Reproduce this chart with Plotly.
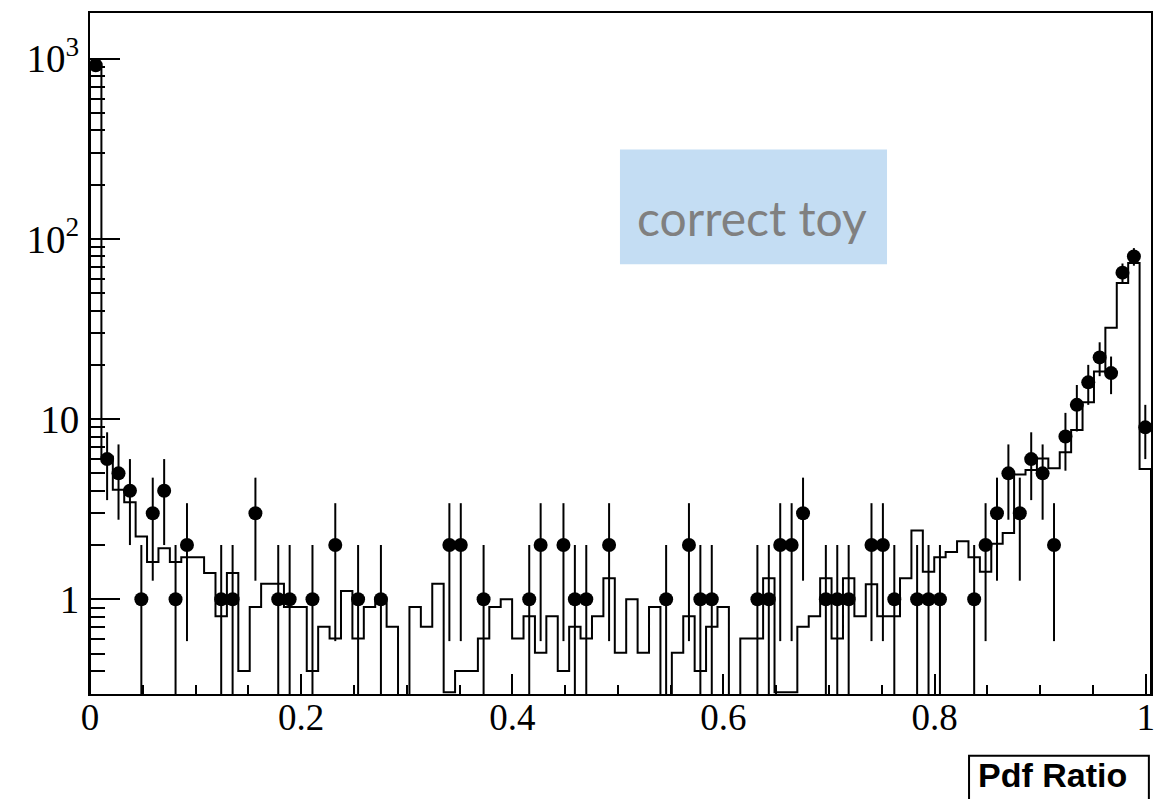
import numpy as np
import plotly.graph_objects as go

# ---- data ----
n_bins = 93
x_min, x_max = 0.0, 1.005

# observed counts per bin (0 = empty bin, not drawn)
data_counts = [
    920, 6, 5, 4, 1, 3, 4, 1, 2, 0,
    0, 1, 1, 0, 3, 0, 1, 1, 0, 1,
    0, 2, 0, 1, 0, 1, 0, 0, 0, 0,
    0, 2, 2, 0, 1, 0, 0, 0, 1, 2,
    0, 2, 1, 1, 0, 2, 0, 0, 0, 0,
    1, 0, 2, 1, 1, 0, 0, 0, 1, 1,
    2, 2, 3, 0, 1, 1, 1, 0, 2, 2,
    1, 0, 1, 1, 1, 0, 0, 1, 2, 3,
    5, 3, 6, 5, 2, 8, 12, 16, 22, 18,
    65, 80, 9,
]

# expected (step histogram) content per bin
expected = [
    900, 6.2, 4.05, 3.45, 2.23, 1.61, 1.92, 1.61, 1.71, 1.71,
    1.4, 0.805, 1.4, 0.40, 0.906, 1.22, 1.22, 0.906, 0.906, 0.40,
    0.703, 0.606, 1.11, 0.606, 0.906, 1.0, 0.703, 0, 0.906, 0.703,
    1.22, 0.305, 0.40, 0.40, 0.606, 0.906, 1.0, 0.606, 0.805, 0.505,
    0.805, 0.40, 0.703, 0.606, 0.805, 1.31, 0.505, 1.0, 0.505, 0.906,
    0, 0.505, 0.805, 0.40, 0.703, 0.906, 0, 0.606, 0.606, 1.31,
    0.305, 0.305, 0.703, 0.805, 1.31, 0.606, 1.31, 0.805, 1.21, 0.805,
    0.805, 1.31, 2.41, 1.42, 1.71, 1.83, 2.10, 1.71, 1.42, 2.03,
    2.33, 4.92, 5.22, 6.05, 5.33, 6.54, 8.69, 12.4, 18.4, 32.1,
    57, 73.6, 5.29,
]

x_ticks = [0, 0.2, 0.4, 0.6, 0.8, 1]
x_tick_labels = ["0", "0.2", "0.4", "0.6", "0.8", "1"]
y_ticks = [1, 10, 100, 1000]
y_tick_labels = ["1", "10", "10<sup>2</sup>", "10<sup>3</sup>"]
y_minor = [0.3, 0.4, 0.5, 0.6, 0.7, 0.8, 0.9,
           2, 3, 4, 5, 6, 7, 8, 9,
           20, 30, 40, 50, 60, 70, 80, 90,
           200, 300, 400, 500, 600, 700, 800, 900]
y_min, y_max = 0.298, 1795

# ---- derived ----
edges = np.linspace(x_min, x_max, n_bins + 1)
centers = 0.5 * (edges[:-1] + edges[1:])
floor = 1e-3  # empty bins drop below the axis minimum

exp = np.array(expected, dtype=float)
exp_draw = np.where(exp > 0, exp, floor)
step_x = np.concatenate([[edges[0]], edges])
step_y = np.concatenate([[floor], exp_draw, [floor]])

cnt = np.array(data_counts, dtype=float)
mask = cnt > 0
px = centers[mask]
py = cnt[mask]
err = np.sqrt(py)

fig = go.Figure()
fig.add_trace(go.Scatter(
    x=step_x, y=step_y, mode="lines", line=dict(shape="hv", color="black", width=2),
    hoverinfo="skip", showlegend=False,
))
fig.add_trace(go.Scatter(
    x=px, y=py, mode="markers",
    marker=dict(symbol="circle", size=14, color="black"),
    error_y=dict(type="data", array=err, arrayminus=err, width=0, thickness=2, color="black"),
    showlegend=False,
))

serif = "Liberation Serif, Times New Roman, serif"

fig.update_xaxes(
    range=[x_min, x_max], tickvals=x_ticks, ticktext=x_tick_labels,
    ticks="inside", ticklen=20, tickwidth=2, tickcolor="black",
    minor=dict(dtick=0.05, ticks="inside", ticklen=9, tickwidth=2, tickcolor="black", showgrid=False),
    showline=True, linewidth=2, linecolor="black", mirror=True,
    showgrid=False, zeroline=False, ticklabelstandoff=-10,
    tickfont=dict(family=serif, size=37, color="black"),
)
fig.update_yaxes(
    type="log", range=[np.log10(y_min), np.log10(y_max)],
    tickvals=y_ticks, ticktext=y_tick_labels,
    ticks="inside", ticklen=30, tickwidth=2, tickcolor="black",
    minor=dict(tickvals=y_minor, ticks="inside", ticklen=15, tickwidth=2, tickcolor="black", showgrid=False),
    showline=True, linewidth=2, linecolor="black", mirror=True,
    showgrid=False, zeroline=False, ticklabelstandoff=1,
    tickfont=dict(family=serif, size=39, color="black"),
)

# "correct toy" label box
fig.add_shape(type="rect", xref="paper", yref="paper",
              x0=0.4995, x1=0.7512, y0=0.631, y1=0.7994,
              fillcolor="#C4DDF3", line=dict(width=0), layer="above")
fig.add_annotation(text="correct toy", xref="paper", yref="paper",
                   x=0.624, y=0.70, xanchor="center", yanchor="middle",
                   showarrow=False, font=dict(family="Lato, sans-serif", size=48, color="#808080"))

# axis title box
fig.add_shape(type="rect", xref="paper", yref="paper",
              x0=0.8285, x1=0.998, y0=-0.18, y1=-0.0908,
              fillcolor="white", line=dict(color="black", width=2), layer="above")
fig.add_annotation(text="<b>Pdf Ratio</b>", xref="paper", yref="paper",
                   x=0.9067, y=-0.119, xanchor="center", yanchor="middle",
                   showarrow=False, font=dict(family="Liberation Sans, Arial, sans-serif", size=34, color="black"))

fig.update_layout(
    width=1167, height=799,
    margin=dict(l=90, r=16, t=11, b=105),
    paper_bgcolor="white", plot_bgcolor="white",
)

fig.write_html("out.html")
